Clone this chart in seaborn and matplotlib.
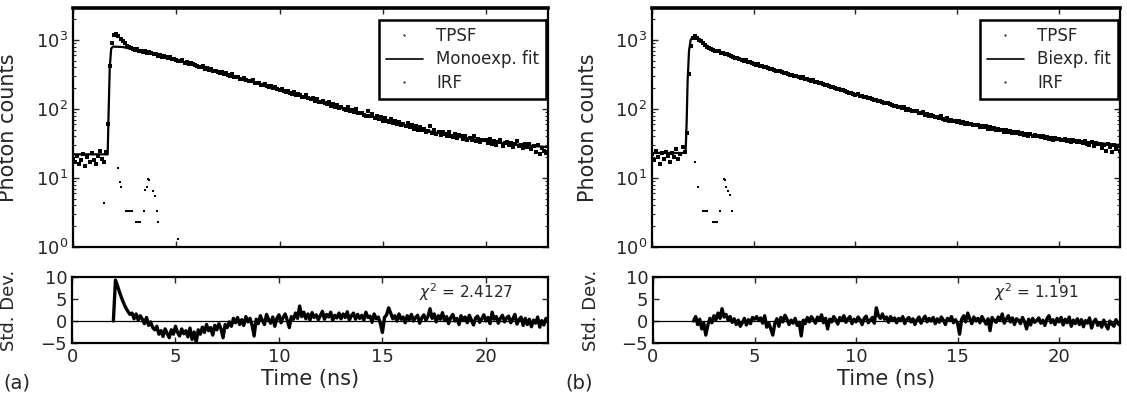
import numpy as np
import pandas as pd
import matplotlib
matplotlib.use("Agg")
import matplotlib.pyplot as plt
from matplotlib.lines import Line2D
from matplotlib.ticker import LogLocator, NullFormatter, FixedLocator
import seaborn as sns

# ---------------- data ----------------
# time channels (ns), 0.1 ns spacing 0 .. 23
time_ns = np.round(np.arange(231) * 0.1, 1)

tpsf_a = [
    19, 17, 21, 16, 18, 22, 15, 20, 17, 23,
    18, 16, 21, 25, 19, 17, 24, 60, 420, 900,
    1180, 1220, 1140, 1040, 950, 890, 830, 800, 760, 745,
    720, 735, 690, 700, 675, 690, 650, 660, 640, 625,
    615, 590, 600, 575, 585, 560, 550, 565, 530, 525,
    515, 500, 490, 505, 470, 480, 455, 465, 445, 430,
    425, 410, 400, 415, 385, 390, 372, 380, 360, 350,
    348, 335, 340, 320, 330, 312, 305, 318, 295, 288,
    290, 276, 268, 280, 262, 258, 250, 262, 240, 236,
    235, 225, 220, 228, 212, 205, 215, 198, 206, 192,
    188, 196, 180, 176, 184, 170, 165, 178, 160, 162,
    158, 150, 148, 160, 142, 138, 145, 132, 140, 128,
    124, 132, 120, 118, 126, 112, 116, 108, 114, 104,
    106, 100, 98, 108, 94, 96, 90, 99, 88, 86,
    88, 82, 80, 92, 78, 84, 74, 80, 72, 76,
    68, 74, 66, 64, 72, 62, 68, 60, 64, 58,
    60, 56, 62, 54, 58, 52, 56, 50, 55, 49,
    52, 46, 48, 56, 45, 50, 44, 47, 42, 46,
    44, 40, 46, 41, 39, 44, 38, 42, 40, 37,
    40, 36, 38, 35, 40, 34, 37, 33, 36, 35,
    35, 32, 37, 31, 34, 30, 33, 35, 29, 32,
    33, 30, 32, 28, 31, 34, 29, 30, 27, 31,
    28, 31, 26, 29, 24, 30, 22, 27, 25, 23,
    24,
]

tpsf_b = [
    22, 18, 25, 20, 16, 23, 19, 24, 21, 17,
    23, 20, 26, 19, 22, 28, 24, 45, 320, 820,
    1080, 1130, 1070, 1000, 950, 890, 850, 800, 760, 735,
    725, 700, 690, 680, 655, 645, 630, 615, 600, 580,
    565, 545, 550, 525, 520, 500, 505, 485, 475, 465,
    455, 440, 445, 425, 420, 405, 410, 390, 385, 375,
    372, 360, 355, 350, 340, 335, 328, 322, 315, 308,
    300, 305, 292, 285, 288, 275, 270, 266, 258, 262,
    248, 245, 236, 240, 228, 225, 222, 214, 210, 205,
    202, 195, 192, 186, 188, 180, 176, 172, 168, 167,
    160, 164, 155, 152, 150, 148, 143, 145, 138, 136,
    134, 130, 132, 124, 122, 120, 121, 116, 114, 112,
    111, 106, 108, 102, 105, 98, 99, 96, 92, 94,
    92, 88, 86, 90, 83, 85, 80, 82, 78, 77,
    77, 74, 78, 72, 70, 74, 68, 70, 67, 66,
    65, 67, 62, 64, 61, 63, 60, 61, 58, 59,
    58, 55, 57, 54, 56, 52, 54, 51, 53, 50,
    51, 49, 50, 47, 49, 46, 48, 45, 47, 45,
    46, 44, 45, 42, 44, 41, 43, 40, 42, 40,
    41, 39, 40, 38, 39, 37, 38, 36, 38, 37,
    37, 36, 35, 37, 34, 35, 33, 35, 34, 33,
    34, 33, 32, 34, 31, 30, 33, 29, 32, 31,
    31, 27, 30, 25, 31, 28, 24, 30, 26, 29,
    25,
]

# fitted curves (node points along the drawn fit)
fit_a_t = [0, 1.68, 1.72, 1.78, 1.85, 1.93, 2.4, 3, 4, 5, 6, 7, 8, 9, 10, 11, 12,
           13, 14, 15, 16, 17, 18, 19, 20, 21, 22, 23]
fit_a_v = [22, 22, 80, 400, 750, 800, 790, 720, 610, 510, 420, 345, 285, 232, 190,
           155, 126, 103, 85, 70, 58, 49, 43, 38, 34, 31.5, 29.5, 28]

fit_b_t = [0, 1.65, 1.70, 1.75, 1.82, 1.90, 2.0, 2.2, 2.5, 3, 3.5, 4, 5, 6, 7, 8, 9,
           10, 11, 12, 13, 14, 15, 16, 17, 18, 19, 20, 21, 22, 23]
fit_b_v = [23, 23, 60, 250, 700, 1000, 1100, 1050, 900, 720, 640, 560, 450, 370, 305,
           250, 200, 163, 133, 110, 90, 76, 65, 57, 50, 45, 40, 37, 34, 32, 30]

# instrument response function (sparse points)
irf_a_t = [1.50, 2.20, 2.28, 2.30, 2.55, 2.65, 2.75, 2.85, 3.05, 3.15, 3.25, 3.43,
           3.50, 3.58, 3.64, 3.68, 3.86, 3.96, 4.06, 4.10, 5.07]
irf_a_v = [4.3, 14, 8.6, 7.3, 3.3, 3.3, 3.3, 3.3, 2.3, 2.3, 2.3, 3.3,
           6.6, 7.5, 9.6, 9.2, 6.4, 5.4, 3.3, 2.3, 1.3]
irf_b_t = [2.10, 2.24, 2.50, 2.60, 2.70, 2.98, 3.08, 3.18, 3.35, 3.55, 3.60, 3.66,
           3.75, 3.85, 3.94]
irf_b_v = [17, 7.5, 3.3, 3.3, 3.3, 2.3, 2.3, 2.3, 3.3, 9.6, 9.2, 7.5, 6.5, 5.6, 3.3]

# weighted residuals (std. dev.)
resid_a = [0] * 21 + [
    9.3, 8.0, 6.5, 5.2, 4.0, 3.0, 2.2, 1.5, 1.8,
    0.5, 1.6, 0.2, 1.2, 0.4, -0.6, 0.8, -1.0, -0.2, -1.5,
    -2.0, -1.2, -3.0, -2.2, -3.5, -1.8, -2.8, -3.8, -2.0, -3.0,
    -1.2, -2.6, -3.4, -1.8, -2.9, -2.2, -3.6, -1.6, -4.2, -2.5,
    -4.8, -2.0, -3.0, -1.4, -2.6, -0.8, -2.2, -1.5, -3.2, -1.0,
    -2.0, -0.6, -1.8, -3.8, -0.8, -1.5, -0.2, -1.2, 0.6, -0.4,
    0.8, -0.8, 0.3, -1.0, 1.0, -0.2, 0.6, -0.9, -3.4, 0.4,
    -0.6, 1.2, 0.1, -0.8, 1.5, 0.3, -0.5, 0.9, -1.2, 0.6,
    1.4, -0.4, 0.8, 1.6, 0.2, -1.5, 1.0, 0.4, 1.8, 0.6,
    3.4, 1.0, 2.0, 0.5, 1.6, 0.2, 1.9, 0.8, 1.4, 0.3,
    1.2, 2.2, 0.4, 1.5, 0.9, 2.0, 0.1, 1.3, 0.7, 1.8,
    0.5, 1.6, 0.8, 2.1, 0.2, 1.2, 1.8, 0.4, 1.5, 0.6,
    1.3, 0.2, 2.0, 0.8, 1.1, -0.3, 1.6, 0.5, 0.9, -0.6,
    -2.6, 0.8, 1.4, 3.0, 1.8, 0.5, 1.2, 0.0, 1.6, 0.4,
    0.9, -0.4, 1.2, 0.3, 1.5, 0.0, 0.8, 1.3, -0.5, 0.7,
    1.4, 0.2, 1.0, 2.8, 0.6, 1.6, -0.2, 1.2, 0.4, 1.9,
    0.1, 1.0, -0.6, 0.8, 1.5, 0.0, 0.6, -0.8, 1.2, 0.3,
    0.9, -0.4, 1.3, 0.2, -0.9, 0.7, 1.1, -0.3, 0.5, 1.4,
    0.0, 0.8, -0.6, 2.0, 0.4, 1.0, -0.5, 0.6, 1.3, -0.2,
    0.7, 1.1, -0.4, 0.5, 1.5, -0.7, 0.3, 0.9, -1.0, 0.6,
    -0.8, 0.4, -1.3, 0.2, -0.5, 0.9, -1.4, 0.1, -0.9, 0.6,
    -0.3,
]

resid_b = [0] * 21 + [
    1.0, -0.8, 0.4, -1.8, -0.5, -3.2, -1.0, 0.6, -0.4,
    1.2, 0.3, 1.8, 0.6, 2.8, 0.9, 1.5, 0.2, 1.0, -0.3,
    0.5, -0.8, 0.2, -1.2, -0.4, 0.6, -0.9, 0.3, -0.6, 0.8,
    0.4, 1.0, 0.1, 0.7, -0.5, 1.2, -1.4, -0.4, -1.8, -3.2,
    -0.6, 0.5, -1.2, 0.8, -0.2, 1.3, 0.4, -0.8, 0.2, -0.5,
    0.6, -1.0, -0.3, -3.4, 0.2, -0.6, 0.8, -0.2, 1.0, 0.3,
    -0.5, 0.9, 0.2, 1.4, -0.4, 0.6, -1.8, 0.4, -0.2, 1.0,
    0.3, -0.7, 0.8, 0.1, 1.2, -0.3, 0.5, 1.0, -0.6, 0.4,
    -0.2, 0.9, 0.3, -0.8, 0.6, 1.1, -0.4, 0.2, 0.8, -0.5,
    3.0, 1.2, 0.6, 1.6, 0.4, 0.9, -0.3, 1.0, 0.2, 0.7,
    -0.4, 0.6, 0.1, 1.0, -0.6, 0.4, 0.8, -0.2, 0.5, -0.8,
    0.3, 0.9, -0.5, 0.4, 1.1, -0.2, 0.6, 0.0, 0.8, -0.6,
    0.5, -0.3, 0.9, 0.2, -0.8, 0.6, 0.1, 1.0, -0.4, 0.3,
    -0.5, -3.0, 0.4, 1.2, -0.2, 1.8, 0.5, -0.6, 0.9, 0.0,
    0.6, -0.4, 1.0, 0.2, -0.7, 0.5, -2.2, 0.8, 0.1, -0.3,
    0.9, 0.3, 1.6, -0.5, 0.4, 1.2, -0.2, 0.7, -0.8, 0.5,
    0.2, -0.6, 0.8, -0.2, -1.8, 0.4, -0.9, 0.6, -0.3, 0.1,
    0.7, -0.5, 0.2, -1.0, 0.5, 1.2, -0.4, 0.3, -0.8, 0.6,
    -0.2, 0.8, -0.9, 0.4, -0.4, 0.9, -1.2, 0.2, -0.6, 0.5,
    -0.8, 0.3, -1.3, 0.1, -0.5, 0.7, -1.6, -0.2, 0.4, -1.0,
    -0.4, -1.4, 0.2, -0.9, -1.8, 0.0, -0.7, -1.2, 0.3, -0.6,
    -1.0,
]

fit_names = ["Monoexp. fit", "Biexp. fit"]
chi2_labels = ["2.4127", "1.191"]
panel_labels = ["(a)", "(b)"]
x_ticks = [0, 5, 10, 15, 20]
resid_ticks = [-5, 0, 5, 10]
resid_start = 2.0  # residual trace is drawn from here on

# ---------------- style ----------------
sns.set_style("ticks")
plt.rcParams["font.family"] = ["DejaVu Sans"]
plt.rcParams["mathtext.fontset"] = "dejavusans"

W, H = 1127, 405
fig = plt.figure(figsize=(W / 100, H / 100), dpi=100)


def fax(l, t, r, b):
    return fig.add_axes([l / W, 1 - b / H, (r - l) / W, (b - t) / H])


panels = [
    dict(top=fax(73, 8, 548, 247), bot=fax(72, 277, 548, 343),
         tpsf=tpsf_a, fit_t=fit_a_t, fit_v=fit_a_v, irf_t=irf_a_t, irf_v=irf_a_v,
         resid=resid_a, lab_x=3),
    dict(top=fax(652, 8, 1120, 247), bot=fax(653, 277, 1120, 343),
         tpsf=tpsf_b, fit_t=fit_b_t, fit_v=fit_b_v, irf_t=irf_b_t, irf_v=irf_b_v,
         resid=resid_b, lab_x=565),
]

XMAX = 23.0
for i, p in enumerate(panels):
    ax = p["top"]
    df = pd.DataFrame({"t": time_ns, "c": p["tpsf"]})
    sns.scatterplot(data=df, x="t", y="c", ax=ax, color="black", s=5,
                    linewidth=0, marker="s", legend=False)
    sns.lineplot(x=p["fit_t"], y=p["fit_v"], ax=ax, color="black", lw=1.6,
                 estimator=None, sort=False, legend=False)
    sns.scatterplot(x=p["irf_t"], y=p["irf_v"], ax=ax, color="black", s=3.5,
                    linewidth=0, marker="s", legend=False)
    ax.set_yscale("log")
    ax.set_ylim(1, 2900)
    ax.set_xlim(0, XMAX)
    ax.xaxis.set_major_locator(FixedLocator(x_ticks))
    ax.set_xticklabels([])
    ax.yaxis.set_major_locator(LogLocator(base=10, numticks=10))
    ax.yaxis.set_minor_locator(LogLocator(base=10, subs=np.arange(2, 10), numticks=20))
    ax.yaxis.set_minor_formatter(NullFormatter())
    ax.set_xlabel("")
    ax.set_ylabel("Photon counts", fontsize=15)
    ax.yaxis.set_label_coords(-0.115, 0.5)
    ax.tick_params(direction="in", top=True, right=True, labelsize=13, length=4, width=1)
    ax.tick_params(which="minor", direction="in", right=True, length=2, width=0.8)
    for s in ax.spines.values():
        s.set_linewidth(1.6)
        s.set_color("black")
    ax.spines["top"].set_linewidth(2.6)

    handles = [Line2D([], [], color="black", marker=".", ms=1, ls="none"),
               Line2D([], [], color="black", lw=1.2),
               Line2D([], [], color="black", marker=".", ms=1, ls="none")]
    leg = ax.legend(handles, ["TPSF", fit_names[i], "IRF"], loc="upper right",
                    bbox_to_anchor=(0.995, 0.95), borderaxespad=0, fontsize=12,
                    frameon=True, fancybox=False, framealpha=1, edgecolor="black",
                    handlelength=2.2, labelspacing=0.35, borderpad=0.4)
    leg.get_frame().set_linewidth(1.8)

    bx = p["bot"]
    rdf = pd.DataFrame({"t": time_ns, "r": p["resid"]})
    rdf = rdf[rdf["t"] >= resid_start]
    bx.axhline(0, color="black", lw=0.9)
    sns.lineplot(data=rdf, x="t", y="r", ax=bx, color="black", lw=2.4,
                 estimator=None, legend=False)
    bx.set_xlim(0, XMAX)
    bx.set_ylim(-5, 10)
    bx.xaxis.set_major_locator(FixedLocator(x_ticks))
    bx.yaxis.set_major_locator(FixedLocator(resid_ticks))
    bx.set_xlabel("Time (ns)", fontsize=15, labelpad=2)
    bx.set_ylabel("Std. Dev.", fontsize=13)
    bx.yaxis.set_label_coords(-0.113, 0.5)
    bx.tick_params(direction="in", top=True, right=True, labelsize=13, length=4, width=1)
    for s in bx.spines.values():
        s.set_linewidth(1.6)
        s.set_color("black")
    bx.text(0.73, 0.77, r"$\chi^2$ = " + chi2_labels[i], transform=bx.transAxes,
            fontsize=11, va="center", ha="left")

    fig.text(p["lab_x"] / W, 1 - 383 / H, panel_labels[i], fontsize=14,
             va="center", ha="left")

fig.savefig("out.png", dpi=100)
